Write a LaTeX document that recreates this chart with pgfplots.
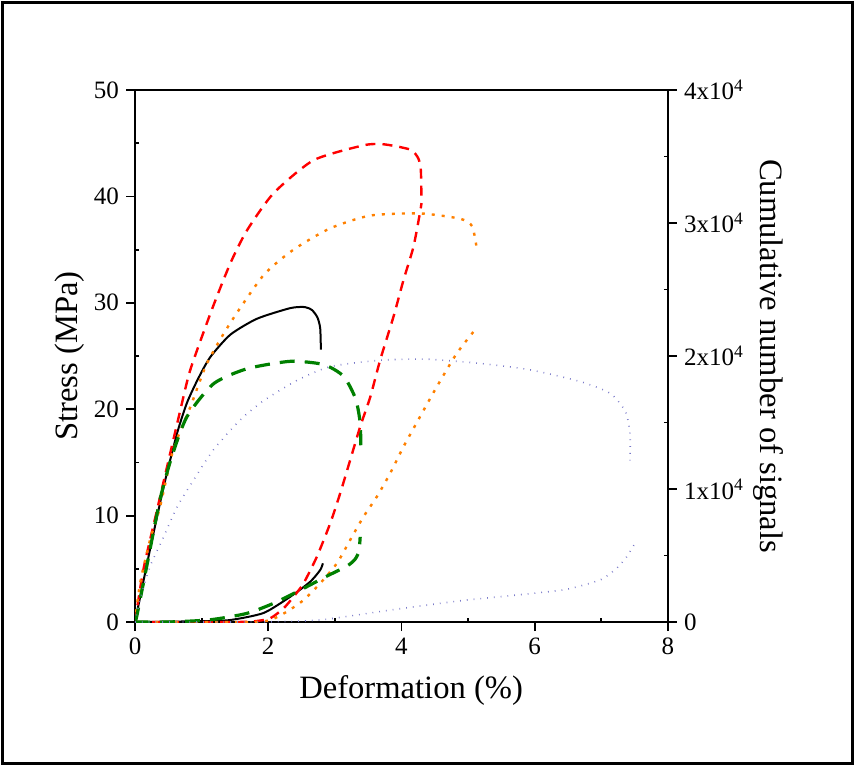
\documentclass[border=0pt]{standalone}
\usepackage{fontspec}
\setmainfont{Liberation Serif}
\usepackage{pgfplots}
\pgfplotsset{compat=1.18}
\definecolor{cred}{RGB}{255,0,0}
\definecolor{corange}{RGB}{255,128,0}
\definecolor{cgreen}{RGB}{0,128,0}
\definecolor{cblue}{RGB}{120,120,200}

\pgfplotsset{
  base/.style={
    scale only axis, width=266.5pt, height=266pt,
    at={(0,0)}, anchor=south west,
    xmin=0, xmax=8,
    axis line style={line width=0.9pt},
    every tick/.style={black, line width=0.9pt},
    tick align=outside,
    major tick length=4.5pt, minor tick length=-2pt,
    tick label style={font=\fontsize{12.5}{14}\selectfont},
    label style={font=\fontsize{16.3}{19}\selectfont},
    /pgf/number format/assume math mode=true,
    every axis plot/.append style={smooth, tension=0.4},
  },
}

\begin{document}
\begin{tikzpicture}[x=1pt,y=1pt]
\useasboundingbox (-67.5,-72.5) rectangle (360,311);
\draw[line width=1.3pt] (-66.3,-70.8) rectangle (358.8,309.8);

% stress curves
\begin{axis}[base,
    ymin=0, ymax=50,
    xtick={0,2,4,6,8}, minor x tick num=1,
    ytick={0,10,20,30,40,50}, minor y tick num=1,
    xtick pos=bottom, ytick pos=left,
    xlabel={Deformation (\%)},
    ylabel={Stress (MPa)},
    xlabel style={at={(axis description cs:0.518,-0.128)}, anchor=center},
    ylabel style={at={(axis description cs:-0.122,0.5)}, anchor=center},
]
\addplot[black, line width=1pt] coordinates {
 (0,0) (0.225,6.8) (0.43,12.7) (0.63,17.7) (0.78,20.6) (0.95,22.9) (1.13,24.9)
 (1.43,27.0) (1.83,28.5) (2.33,29.5) (2.55,29.6) (2.66,29.3) (2.74,28.6)
 (2.78,27.6) (2.79,25.6)};
\addplot[cred, line width=1.2pt, dash pattern=on 5pt off 3.5pt] coordinates {
 (0,0) (0.125,4.9) (0.33,10.5) (0.53,15.9) (0.68,19.9) (0.83,23.7) (1.15,29.3)
 (1.43,33.7) (1.68,36.8) (2.08,40.3) (2.68,43.4) (3.43,44.8) (3.73,44.9)
 (4.13,44.4) (4.25,43.6) (4.29,42.5) (4.30,39.5)};
\addplot[corange, line width=1.2pt, dash pattern=on 1.5pt off 3.5pt] coordinates {
 (0,0) (0.075,3.6) (0.225,7.7) (0.375,10.8) (0.575,16.2) (0.83,20.2) (1.08,24.3)
 (1.43,28.1) (1.93,32.6) (2.38,35.0) (2.93,37.0) (3.53,38.2) (4.28,38.4)
 (4.88,37.9) (5.06,37.2) (5.13,35.1)};
\addplot[cgreen, line width=1.6pt, dash pattern=on 7.5pt off 5pt] coordinates {
 (0,0) (0.025,0.5) (0.175,5.2) (0.375,11.5) (0.55,15.5) (0.78,19.3)
 (1.18,22.4) (1.68,23.8) (2.33,24.5) (2.83,24.2) (3.13,23.1) (3.31,21.0)
 (3.38,18.7) (3.39,16.0)};
\addplot[cblue, line width=0.8pt, dash pattern=on 0.4pt off 3pt] coordinates {
 (0,0) (0.075,2.1) (0.225,5.2) (0.43,8.0) (0.63,10.8) (0.875,13.3) (1.18,16.2)
 (1.58,19.0) (1.93,20.8) (2.43,22.7) (2.93,24.0) (3.68,24.6) (4.38,24.7)
 (5.18,24.3) (5.93,23.7) (6.68,22.6) (7.13,21.5) (7.36,19.8) (7.43,17.7)
 (7.43,15.2)};
\end{axis}

% cumulative signals
\begin{axis}[base,
    ymin=0, ymax=40000,
    axis x line=none, axis y line*=right,
    scaled y ticks=false,
    ytick={0,10000,20000,30000,40000}, minor y tick num=1,
    yticklabels={0, 1x10\textsuperscript{4}, 2x10\textsuperscript{4},
                 3x10\textsuperscript{4}, 4x10\textsuperscript{4}},
    ylabel={Cumulative number of signals},
    ylabel style={at={(axis description cs:1.1876,0.5)}, anchor=center, rotate=180},
]
\addplot[black, line width=1pt] coordinates {
 (0,0) (1.0,60) (1.43,150) (1.93,680) (2.33,1900) (2.63,3030) (2.78,3910) (2.82,4410)};
\addplot[cred, line width=1.2pt, dash pattern=on 5pt off 3.5pt] coordinates {
 (0,0) (1.5,0) (1.8,60) (2.03,280) (2.23,1030) (2.38,1900) (2.53,2910) (2.73,4910)
 (2.93,7420) (3.08,9680) (3.23,12180) (3.38,14690) (3.53,16900) (3.68,19700)
 (3.88,22960) (4.03,25710) (4.18,28220) (4.28,30850) (4.30,31500)};
\addplot[corange, line width=1.2pt, dash pattern=on 1.5pt off 3.5pt] coordinates {
 (0,0) (1.7,0) (2.03,150) (2.28,780) (2.53,1650) (2.78,2910) (3.03,4410)
 (3.23,6170) (3.43,7920) (3.63,9420) (3.83,11180) (4.03,13180) (4.23,15000)
 (4.53,17690) (4.83,20200) (5.11,22010)};
\addplot[cgreen, line width=1.6pt, dash pattern=on 7.5pt off 5pt] coordinates {
 (0,0) (0.5,0) (1.13,170) (1.68,650) (2.1,1450) (2.5,2450) (2.88,3450)
 (3.18,4200) (3.30,4700) (3.36,5300) (3.38,6400)};
\addplot[cblue, line width=0.8pt, dash pattern=on 0.4pt off 3pt] coordinates {
 (0,0) (1.5,0) (2.4,50) (2.83,180) (3.43,600) (3.83,900) (4.43,1300) (4.98,1650)
 (5.98,2160) (6.48,2460) (6.98,3160) (7.23,4040) (7.38,4910) (7.51,5960)};
\end{axis}
\end{tikzpicture}
\end{document}
